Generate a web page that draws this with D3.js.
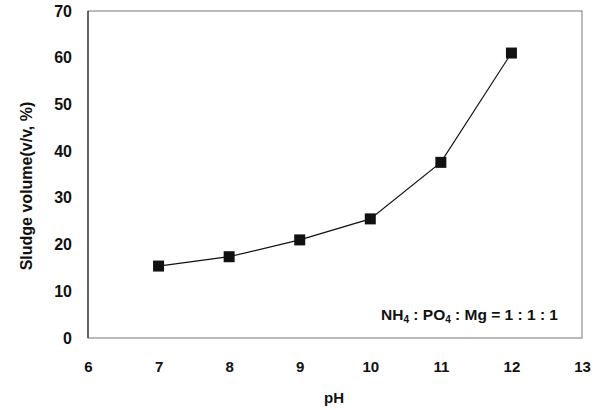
<!DOCTYPE html>
<html><head><meta charset="utf-8">
<script src="https://cdn.jsdelivr.net/npm/d3@7"></script>
<style>body{margin:0;background:#fff}svg{display:block}text{font-family:Arial,"Liberation Sans",sans-serif;font-weight:bold;fill:#111}</style>
</head><body>
<script>
const phValues = [7, 8, 9, 10, 11, 12];
const sludgeVolume = [15.4, 17.4, 21.0, 25.5, 37.6, 61.0];
const xTicks = [6, 7, 8, 9, 10, 11, 12, 13];
const yTicks = [0, 10, 20, 30, 40, 50, 60, 70];

const W = 603, H = 410;
const m = {left: 88, right: 21, top: 11, bottom: 72};
const svg = d3.select("body").append("svg").attr("width", W).attr("height", H);
const x = d3.scaleLinear().domain([6, 13]).range([m.left, W - m.right]);
const y = d3.scaleLinear().domain([0, 70]).range([H - m.bottom, m.top]);

svg.append("rect").attr("x", m.left).attr("y", m.top)
  .attr("width", W - m.right - m.left).attr("height", H - m.bottom - m.top)
  .attr("fill", "none").attr("stroke", "#777").attr("stroke-width", 1);
svg.append("line").attr("x1", m.left).attr("x2", m.left).attr("y1", m.top).attr("y2", H - m.bottom)
  .attr("stroke", "#333").attr("stroke-width", 1.3);

const xAxis = svg.append("g").attr("transform", `translate(0,${H - m.bottom})`)
  .call(d3.axisBottom(x).tickValues(xTicks).tickSize(0).tickPadding(23).tickFormat(d3.format("d")));
xAxis.select(".domain").remove();
xAxis.selectAll("text").style("font-size", "15px").style("font-family", "Arial, 'Liberation Sans', sans-serif").style("font-weight", "bold").attr("fill", "#111");

const yAxis = svg.append("g").attr("transform", `translate(${m.left},0)`)
  .call(d3.axisLeft(y).tickValues(yTicks).tickSize(0).tickPadding(16).tickFormat(d3.format("d")));
yAxis.select(".domain").remove();
yAxis.selectAll("text").style("font-size", "16px").style("font-family", "Arial, 'Liberation Sans', sans-serif").style("font-weight", "bold").attr("fill", "#111");

const pts = phValues.map((p, i) => [p, sludgeVolume[i]]);
svg.append("path").datum(pts)
  .attr("d", d3.line().x(d => x(d[0])).y(d => y(d[1])))
  .attr("fill", "none").attr("stroke", "#111").attr("stroke-width", 1.2);
const s = 11;
svg.selectAll("rect.mk").data(pts).enter().append("rect").attr("class", "mk")
  .attr("x", d => x(d[0]) - s / 2).attr("y", d => y(d[1]) - s / 2)
  .attr("width", s).attr("height", s).attr("fill", "#111");

svg.append("text").attr("x", 334).attr("y", 403)
  .attr("text-anchor", "middle").style("font-size", "15px").text("pH");
svg.append("text").attr("transform", `translate(32,186) rotate(-90)`)
  .attr("text-anchor", "middle").style("font-size", "16px").text("Sludge volume(v/v, %)");

const ann = svg.append("text").attr("x", 558).attr("y", 320).attr("text-anchor", "end").style("font-size", "15.5px");
ann.append("tspan").text("NH");
ann.append("tspan").attr("dy", 3).style("font-size", "10px").text("4");
ann.append("tspan").attr("dy", -3).text(" : PO");
ann.append("tspan").attr("dy", 3).style("font-size", "10px").text("4");
ann.append("tspan").attr("dy", -3).text(" : Mg = 1 : 1 : 1");
</script>
</body></html>
